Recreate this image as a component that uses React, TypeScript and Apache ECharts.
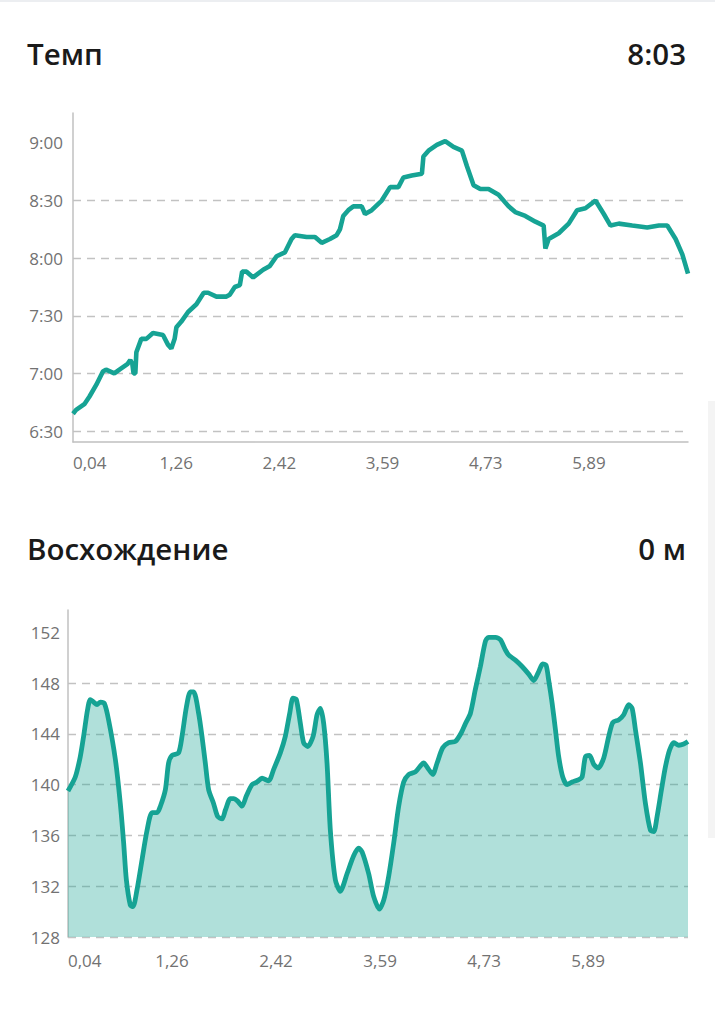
import React, { useEffect, useRef } from "react";
import * as echarts from "echarts";

// ---- texts ----
const PACE_TITLE = "Темп";
const PACE_VALUE = "8:03";
const ELEV_TITLE = "Восхождение";
const ELEV_VALUE = "0 м";

// ---- x axis (sample index scale, labels are distances in km) ----
const X_TICK_POS = [0, 10, 20, 30, 40, 50];
const X_TICK_LABELS = ["0,04", "1,26", "2,42", "3,59", "4,73", "5,89"];

// ---- pace (seconds per km) ----
const PACE_TICKS = [390, 420, 450, 480, 510, 540];
const PACE_X = [
  0, 0.3, 1.1, 1.6, 2.25, 2.9, 3.2, 4.0, 4.5, 5.3, 5.55, 5.75, 5.87, 6.04, 6.14, 6.62, 7.11, 7.75, 8.72, 9.2,
  9.53, 9.85, 10.02, 10.5, 11.15, 11.96, 12.67, 13.09, 13.9, 14.87, 15.19, 15.68, 16.17, 16.39, 16.82, 17.46,
  18.43, 19.08, 19.73, 20.53, 21.18, 21.5, 22.64, 23.45, 24.1, 24.9, 25.55, 25.87, 26.19, 26.68, 27.17, 27.98,
  28.3, 28.95, 29.92, 30.73, 31.53, 32.02, 32.83, 33.81, 33.96, 34.45, 35.26, 36.07, 36.87, 37.69, 38.17, 38.82,
  39.47, 40.27, 41.24, 42.21, 42.86, 43.83, 44.81, 45.61, 45.78, 46.1, 47.07, 48.04, 48.85, 49.66, 50.63, 51.44,
  52.09, 52.89, 54.19, 55.65, 56.78, 57.59, 58.4, 59.05, 59.6,
];
const PACE_SEC = [
  399, 401, 404, 408, 414, 421, 422, 420, 422, 425, 427, 425, 420, 420, 431, 438, 438, 441, 440, 435,
  433, 438, 444, 447, 452, 456, 462, 462, 460, 460, 461, 465, 466, 473, 473, 470,
  474, 476, 481, 483, 490, 492, 491, 491, 488, 490, 492, 495, 502, 505, 507, 507,
  503, 505, 510, 517, 517, 522, 523, 524, 533, 536, 539, 541, 538, 536, 528, 518,
  516, 516, 513, 507, 504, 502, 499, 497, 485, 490, 493, 498, 505, 506, 510, 503,
  497, 498, 497, 496, 497, 497, 490, 482, 472,
];

// ---- elevation (m) ----
const ELEV_TICKS = [128, 132, 136, 140, 144, 148, 152];
const ELEV_X = [
  0, 0.7, 1.18, 1.5, 1.88, 2.14, 2.46, 2.79, 3.11, 3.49, 3.9, 4.55, 5.03, 5.35, 5.61, 5.99, 6.25, 6.63, 7.12,
  7.6, 8.08, 8.56, 8.88, 9.36, 9.67, 10.0, 10.63, 10.96, 11.38, 11.76, 12.08, 12.56, 12.88, 13.2, 13.52, 14.0,
  14.38, 14.81, 15.13, 15.61, 15.92, 16.31, 16.73, 17.14, 17.69, 18.17, 18.65, 19.29, 19.77, 20.41, 20.89,
  21.31, 21.63, 21.95, 22.34, 22.65, 23.04, 23.56, 23.94, 24.26, 24.58, 24.9, 25.22, 25.7, 26.18, 26.83, 27.46,
  27.94, 28.27, 28.9, 29.38, 29.93, 30.35, 30.83, 31.31, 31.79, 32.27, 32.75, 33.39, 34.19, 34.67, 35.06,
  35.48, 36.02, 36.6, 37.24, 37.82, 38.2, 38.68, 39.16, 39.64, 40.13, 40.44, 41.09, 41.57, 42.05, 42.37,
  43.01, 43.65, 44.29, 44.77, 45.25, 45.63, 45.96, 46.21, 46.54, 46.86, 47.17, 47.56, 47.98, 48.46, 49.1,
  49.42, 49.74, 50.13, 50.54, 50.96, 51.5, 51.98, 52.37, 52.94, 53.42, 53.9, 54.23, 54.55, 55.03, 55.51,
  55.99, 56.31, 56.63, 57.05, 57.43, 57.82, 58.23, 58.71, 59.19, 59.6,
];
const ELEV_M = [
  139.5, 140.6, 142.2, 143.8, 145.9, 146.7, 146.5, 146.3, 146.5, 146.4, 145.1, 142.0, 138.5, 135.4, 132.5,
  130.5, 130.4, 131.7, 134.1, 136.4, 137.8, 137.8, 138.3, 139.6, 141.7, 142.3, 142.5, 143.8, 146.1, 147.3,
  147.3, 145.6, 143.8, 141.7, 139.6, 138.5, 137.5, 137.3, 138.0, 138.9, 138.9, 138.7, 138.3, 139.1, 140.0,
  140.2, 140.5, 140.3, 141.2, 142.5, 143.8, 145.6, 146.8, 146.7, 144.8, 143.3, 143.0, 143.8, 145.5, 146.0,
  144.8, 141.7, 136.4, 132.5, 131.6, 133.0, 134.4, 135.0, 134.7, 133.0, 131.2, 130.2, 130.9, 132.8, 135.4,
  138.3, 140.2, 140.8, 141.0, 141.7, 141.2, 140.8, 141.7, 142.9, 143.3, 143.4, 144.1, 144.8, 145.6, 147.5,
  149.3, 151.3, 151.6, 151.6, 151.4, 150.6, 150.2, 149.8, 149.3, 148.7, 148.2, 148.9, 149.5, 149.4, 148.2,
  146.4, 144.3, 142.2, 140.6, 140.0, 140.2, 140.4, 140.6, 142.2, 142.3, 141.6, 141.3, 142.1, 143.8, 144.9,
  145.1, 145.5, 146.3, 146.0, 144.3, 141.7, 138.5, 136.4, 136.3, 137.5, 139.6, 141.4, 142.7, 143.3, 143.1,
  143.2, 143.4,
];

const FONT = '"Open Sans", "Noto Sans", sans-serif';
const TEAL = "#16a394";
const LABEL_COLOR = "#727272";
const GRID_COLOR = "#c2c2c2";
const AXIS_COLOR = "#c0c0c0";

function fmtPace(v: number): string {
  const m = Math.floor(v / 60);
  const s = Math.round(v - m * 60);
  return `${m}:${s < 10 ? "0" + s : s}`;
}

function xAxis(gridIndex: number, showLine: boolean, margin: number) {
  return {
    type: "value",
    gridIndex,
    min: 0,
    max: 59.6,
    interval: 10,
    axisLine: { show: showLine, lineStyle: { color: AXIS_COLOR, width: 1.5 } },
    axisTick: { show: false, customValues: X_TICK_POS },
    splitLine: { show: false },
    axisLabel: {
      customValues: X_TICK_POS,
      formatter: (v: number) => {
        const i = X_TICK_POS.indexOf(Math.round(v));
        return i >= 0 ? X_TICK_LABELS[i] : "";
      },
      color: LABEL_COLOR,
      fontSize: 17,
      fontFamily: FONT,
      margin,
      alignMinLabel: "left",
    },
  };
}

function yAxis(gridIndex: number, min: number, max: number, ticks: number[], fmt: (v: number) => string, margin: number) {
  return {
    type: "value",
    gridIndex,
    min,
    max,
    axisLine: { show: true, lineStyle: { color: AXIS_COLOR, width: 1.5 } },
    axisTick: { show: false, customValues: ticks },
    axisLabel: {
      customValues: ticks,
      formatter: fmt,
      color: LABEL_COLOR,
      fontSize: 17,
      fontFamily: FONT,
      margin,
    },
    splitLine: {
      show: true,
      showMaxLine: false,
      lineStyle: { color: GRID_COLOR, width: 1.3, type: [8, 6] },
    },
  };
}

export default function App() {
  const ref = useRef<HTMLDivElement>(null);

  useEffect(() => {
    if (!ref.current) return;
    const chart = echarts.init(ref.current, null, { renderer: "svg" });

    const paceData = PACE_X.map((x, i) => [x, PACE_SEC[i]]);
    const elevData = ELEV_X.map((x, i) => [x, ELEV_M[i]]);

    const titleStyle = (text: string, align: string) => ({
      text,
      fill: "#1a1a1a",
      font: `600 29.5px ${FONT}`,
      textAlign: align,
      textVerticalAlign: "middle",
    });

    chart.setOption({
      animation: false,
      backgroundColor: "#ffffff",
      grid: [
        { left: 73, top: 113, width: 615, height: 329 },
        { left: 68, top: 610, width: 620, height: 327 },
      ],
      xAxis: [xAxis(0, true, 12), xAxis(1, false, 15)],
      yAxis: [
        yAxis(0, 384.3, 555.6, PACE_TICKS, (v: number) => fmtPace(v), 10),
        yAxis(1, 128, 153.75, ELEV_TICKS, (v: number) => String(Math.round(v)), 8),
      ],
      series: [
        {
          type: "line",
          xAxisIndex: 0,
          yAxisIndex: 0,
          data: paceData,
          showSymbol: false,
          lineStyle: { color: TEAL, width: 4.6 },
          itemStyle: { color: TEAL },
        },
        {
          type: "line",
          xAxisIndex: 1,
          yAxisIndex: 1,
          data: elevData,
          smooth: 0.25,
          showSymbol: false,
          lineStyle: { color: TEAL, width: 4.8 },
          itemStyle: { color: TEAL },
          areaStyle: { color: TEAL, opacity: 0.34, origin: "start" },
        },
      ],
      graphic: [
        { type: "rect", shape: { x: 0, y: 0, width: 715, height: 2 }, style: { fill: "#eceef1" }, silent: true },
        { type: "rect", shape: { x: 708, y: 401, width: 7, height: 437 }, style: { fill: "#f4f4f4" }, silent: true },
        { type: "text", x: 27, y: 53, style: titleStyle(PACE_TITLE, "left") },
        { type: "text", x: 686, y: 53, style: titleStyle(PACE_VALUE, "right") },
        { type: "text", x: 27, y: 548, style: titleStyle(ELEV_TITLE, "left") },
        { type: "text", x: 686, y: 548, style: titleStyle(ELEV_VALUE, "right") },
      ],
    });

    return () => chart.dispose();
  }, []);

  return (
    <div
      style={{ position: "absolute", left: 0, top: 0, width: 715, height: 1024, background: "#ffffff" }}
    >
      <div ref={ref} style={{ width: 715, height: 1024 }} />
    </div>
  );
}
